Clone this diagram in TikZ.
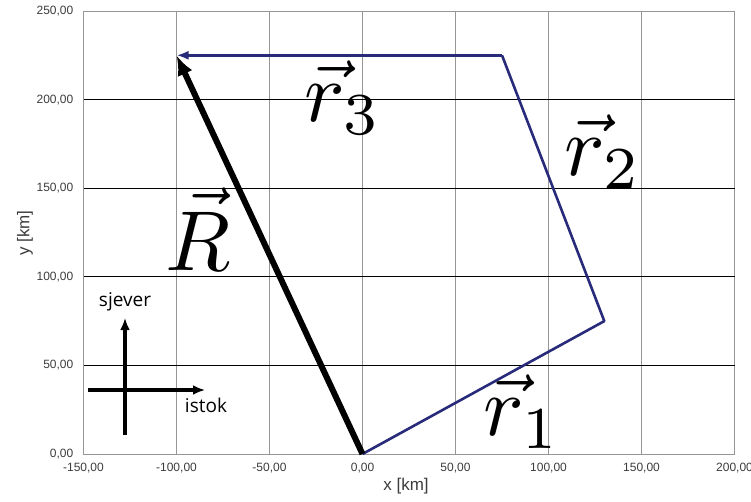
\documentclass[tikz,border=0pt]{standalone}
\usepackage{fontspec}
\newfontfamily\tickfont{Liberation Sans}
\newfontfamily\compassfont{Open Sans}
\usetikzlibrary{arrows.meta}
\definecolor{vecblue}{RGB}{40,42,122}
\definecolor{gridgray}{RGB}{150,150,150}
\definecolor{ticktext}{RGB}{60,60,60}
\tikzset{
  vgrid/.style={draw=gridgray, line width=0.9pt},
  hgrid/.style={draw=black, line width=1pt},
  tick/.style={font=\tickfont\fontsize{12}{14}\selectfont, text=ticktext, inner sep=0pt},
  axtitle/.style={font=\tickfont\fontsize{17}{19}\selectfont, text=ticktext, inner sep=0pt},
  vecline/.style={draw=vecblue, line width=2.6pt, line join=round},
  bigvec/.style={draw=black, line width=6pt, -{Latex[length=20pt,width=16pt]}},
  veclabel/.style={scale=8.5, inner sep=0pt},
  compass/.style={draw=black, line width=4pt, -{Latex[length=12pt,width=10pt]}},
  comptext/.style={font=\compassfont\fontsize{19}{21}\selectfont, inner sep=0pt}
}
\begin{document}
\begin{tikzpicture}[x=1pt,y=1pt]
\useasboundingbox (0,0) rectangle (751,501);
\begin{scope}[shift={(362.5,47)}, x=1.86pt, y=1.772pt]
  % grid
  \foreach \gx in {-100,-50,0,50,100,150}
    \draw[vgrid] (\gx,0) -- (\gx,250);
  \draw[vgrid] (-150,0) rectangle (200,250);
  \foreach \gy in {50,100,150,200}
    \draw[hgrid] (-150,\gy) -- (200,\gy);
  % tick labels
  \foreach \gx/\lab in {-150/{-150,00},-100/{-100,00},-50/{-50,00},0/{0,00},50/{50,00},100/{100,00},150/{150,00},200/{200,00}}
    \node[tick, anchor=north] (xt\gx) at ([yshift=-9pt]\gx,0) {\lab};
  \foreach \gy/\lab in {0/{0,00},50/{50,00},100/{100,00},150/{150,00},200/{200,00},250/{250,00}}
    \node[tick, anchor=east] (yt\gy) at ([xshift=-10pt]-150,\gy) {\lab};
  % vectors
  \coordinate (O) at (0,0);
  \coordinate (A) at (130,75);
  \coordinate (B) at (75,225);
  \coordinate (C) at (-100,225);
  \draw[vecline] (O) -- (A) -- (B);
  \draw[vecline, -{Latex[length=12pt,width=9pt]}] (B) -- (C);
  \draw[bigvec] (O) -- (C);
\end{scope}
% axis titles
\node[axtitle] (xtitle) at (406,15) {x [km]};
\node[axtitle, rotate=90] (ytitle) at (25,268) {y [km]};
% vector labels
\node[veclabel] (r1) at (522,89) {$\vec{r}_1$};
\node[veclabel] (r2) at (603,349) {$\vec{r}_2$};
\node[veclabel] (r3) at (343,403) {$\vec{r}_3$};
\node[veclabel] (R) at (198,272) {$\vec{R}$};
% compass
\coordinate (cs) at (125,66);
\coordinate (cn) at (125,183);
\coordinate (cw) at (88,111);
\coordinate (ce) at (205,111);
\draw[compass] (cs) -- (cn);
\draw[compass, line width=3.2pt] (cw) -- (ce);
\node[comptext] (sjever) at (125,199) {sjever};
\node[comptext] (istok) at (206,96) {istok};
\end{tikzpicture}
\end{document}
